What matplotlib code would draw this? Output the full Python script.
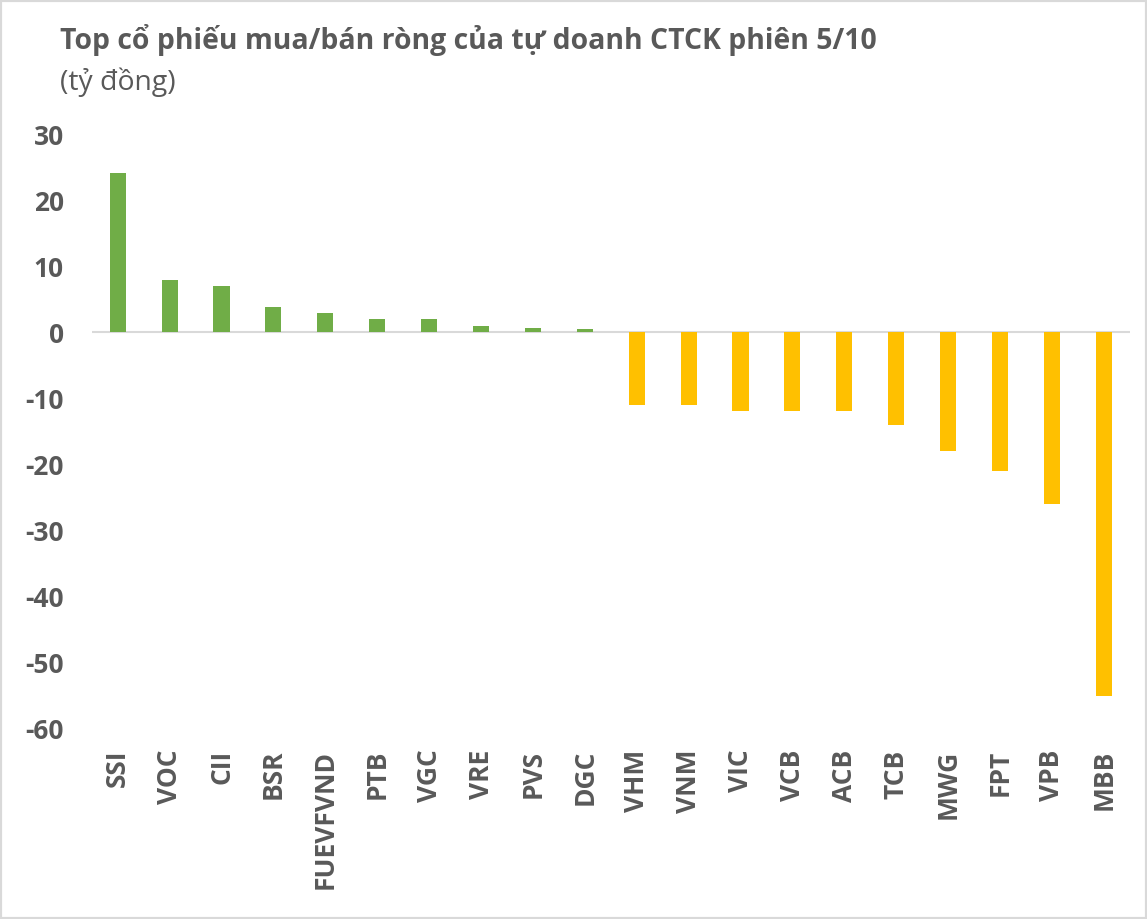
import matplotlib
matplotlib.use('Agg')
import matplotlib.pyplot as plt
from matplotlib.patches import Rectangle

plt.rcParams['font.family'] = ['Open Sans', 'DejaVu Sans']

tickers = ['SSI', 'VOC', 'CII', 'BSR', 'FUEVFVND', 'PTB', 'VGC', 'VRE', 'PVS', 'DGC',
           'VHM', 'VNM', 'VIC', 'VCB', 'ACB', 'TCB', 'MWG', 'FPT', 'VPB', 'MBB']
net_values = [24.1, 8.0, 7.0, 3.9, 3.0, 2.0, 2.0, 1.0, 0.7, 0.5,
              -11.0, -11.0, -11.9, -11.9, -11.9, -14.0, -18.0, -21.0, -26.0, -55.0]

green = '#70ad47'
yellow = '#ffc000'
text_col = '#595959'

colors = [green if v > 0 else yellow for v in net_values]

fig = plt.figure(figsize=(11.47, 9.19), dpi=100)
ax = fig.add_axes([0.080, 0.207, 0.905, 0.647])

x = range(len(tickers))
ax.bar(x, net_values, width=0.31, color=colors, zorder=2)
ax.axhline(0, color='#d9d9d9', lw=1.5, zorder=1)

ax.set_ylim(-60, 30)
ax.set_xlim(-0.5, len(tickers) - 0.5)
ax.set_yticks(range(-60, 31, 10))
ax.set_yticklabels([str(t) for t in range(-60, 31, 10)], fontsize=19,
                   fontweight='bold', color=text_col)
ax.set_xticks(list(x))
ax.set_xticklabels(tickers, rotation=90, fontsize=19, fontweight='bold',
                   color=text_col, va='top')
ax.tick_params(axis='both', length=0)
ax.tick_params(axis='x', pad=15)
ax.tick_params(axis='y', pad=20)
for s in ax.spines.values():
    s.set_visible(False)

fig.text(0.052, 0.957, 'Top cổ phiếu mua/bán ròng của tự doanh CTCK phiên 5/10',
         fontsize=20.4, fontweight='bold', color=text_col, va='center')
fig.text(0.052, 0.911, '(tỷ đồng)', fontsize=20.4, color=text_col, va='center')

fig.add_artist(Rectangle((0, 0), 1, 1, transform=fig.transFigure, fill=False,
                         ec='#d9d9d9', lw=3))

fig.savefig('out.png', dpi=100)
